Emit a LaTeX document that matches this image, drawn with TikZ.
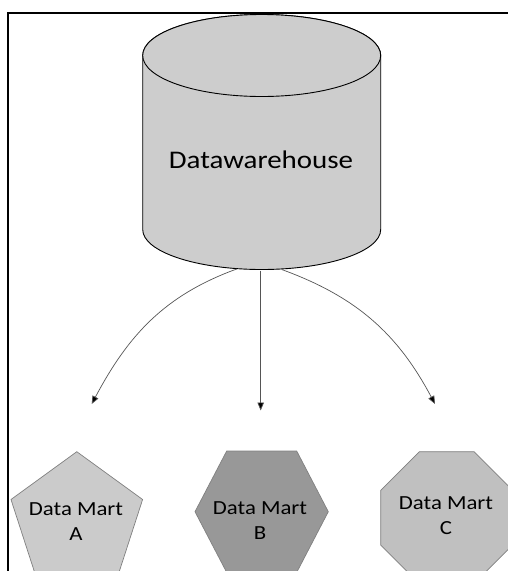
\documentclass[tikz,border=0pt]{standalone}
\usepackage{fontspec}
\setmainfont{Carlito}
\newfontfamily\widefont[FakeStretch=1.14]{Carlito}
\usetikzlibrary{arrows.meta}
\definecolor{cylfill}{HTML}{CDCDCD}
\definecolor{pentfill}{HTML}{CBCBCB}
\definecolor{hexfill}{HTML}{989898}
\definecolor{octfill}{HTML}{C0C0C0}
\definecolor{shapeedge}{HTML}{808080}
\definecolor{txt}{HTML}{000000}
\definecolor{conn}{HTML}{555555}
\tikzset{
  cyl/.style={fill=cylfill, draw=black, line width=0.9pt},
  martshape/.style={draw=shapeedge, line width=0.7pt},
  marttext/.style={text=txt, align=center, inner sep=0pt, font=\widefont\fontsize{20}{25}\selectfont},
  dwtext/.style={text=txt, inner sep=0pt, font=\widefont\fontsize{25.4}{30}\selectfont},
  conn/.style={draw=conn, line width=0.7pt, -{Triangle[length=8pt,width=6.5pt,fill=black]}},
}
\begin{document}
\begin{tikzpicture}[x=1pt,y=-1pt]
\clip (0,0) rectangle (508,571);
\fill[white] (0,0) rectangle (508,571);
% frame
\draw[line width=2pt] (8.3,571) -- (8.3,13) -- (508,13);
% cylinder
\path[cyl] (142.7,55.5) -- (142.7,229.5) arc[start angle=180,end angle=360,x radius=119,y radius=-40] -- (380.7,55.5) arc[start angle=0,end angle=180,x radius=119,y radius=-41] -- cycle;
\draw[cyl] (261.7,55.5) ellipse[x radius=119,y radius=41];
\node[dwtext, anchor=base] (dw) at (261,168) {Datawarehouse};
\coordinate (sA) at (236.7,269);
\coordinate (sB) at (260.7,270.5);
\coordinate (sC) at (281.7,269.5);
% data marts
\path[martshape, fill=pentfill] (76.8,451.7) -- (142.6,499.5) -- (117.5,576.9) -- (36.1,576.9) -- (11,499.5) -- cycle;
\path[martshape, fill=hexfill] (226.7,451) -- (296.7,451) -- (328.3,511.7) -- (296.7,572.4) -- (226.7,572.4) -- (195,511.7) -- cycle;
\path[martshape, fill=octfill] (419.4,451.7) -- (474,451.7) -- (512.7,490.4) -- (512.7,545) -- (474,583.7) -- (419.4,583.7) -- (380.7,545) -- (380.7,490.4) -- cycle;
\node[marttext] (ma) at (76,522) {Data Mart\\A};
\node[marttext] (mb) at (260,521) {Data Mart\\B};
\node[marttext] (mc) at (446,516) {Data Mart\\C};
% arrow tips
\coordinate (tA) at (91.7,404);
\coordinate (tB) at (260.7,410.5);
\coordinate (tC) at (435,404);
\draw[conn] (sA) to[out=200,in=62] (tA);
\draw[conn] (sB) -- (tB);
\draw[conn] (sC) to[out=-20,in=118] (tC);
\end{tikzpicture}
\end{document}
